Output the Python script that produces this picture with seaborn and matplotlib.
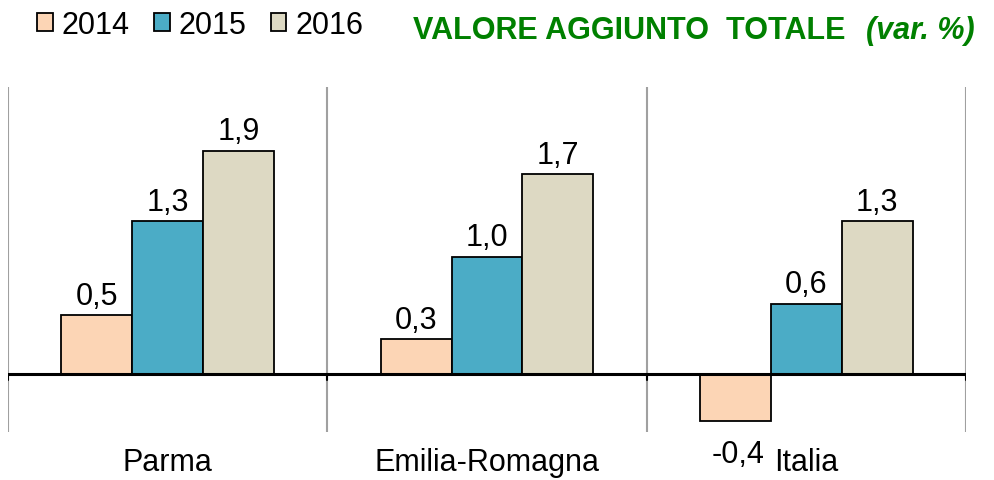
import pandas as pd
import matplotlib.pyplot as plt
import seaborn as sns
from matplotlib.patches import Patch

# Data
regions = ['Parma', 'Emilia-Romagna', 'Italia']
years = ['2014', '2015', '2016']
values_2014 = [0.5, 0.3, -0.4]
values_2015 = [1.3, 1.0, 0.6]
values_2016 = [1.9, 1.7, 1.3]
colors = ['#FCD5B5', '#4BACC6', '#DDD9C3']

rows = []
for year, vals in zip(years, [values_2014, values_2015, values_2016]):
    for reg, v in zip(regions, vals):
        rows.append({'region': reg, 'year': year, 'value': v})
df = pd.DataFrame(rows)

sns.set_style('white')
plt.rcParams['font.family'] = ['Liberation Sans', 'DejaVu Sans']
plt.rcParams['text.color'] = 'black'

fig = plt.figure(figsize=(9.95, 4.81), dpi=100)
ax = fig.add_axes([8 / 995, 48 / 481, 958 / 995, 345 / 481])

sns.barplot(data=df, x='region', y='value', hue='year', order=regions,
            hue_order=years, palette=colors, saturation=1, width=0.665,
            edgecolor='black', linewidth=1.3, legend=False, ax=ax)

ax.set_xlim(-0.5, 2.5)
ax.set_ylim(-0.49, 2.44)

# value labels
for container in ax.containers:
    for bar in container:
        h = bar.get_height()
        x = bar.get_x() + bar.get_width() / 2
        txt = f'{h:.1f}'.replace('.', ',')
        if h >= 0:
            ax.annotate(txt, (x, h), xytext=(0, 3), textcoords='offset points',
                        ha='center', va='bottom', fontsize=22, color='black')
        else:
            ax.annotate(txt, (x, h), xytext=(2, -13), textcoords='offset points',
                        ha='center', va='top', fontsize=22, color='black')

# separators and zero line
for xb in [-0.5, 0.5, 1.5, 2.5]:
    ax.axvline(xb, color='#a0a0a0', lw=1.5, zorder=0)
    ax.plot([xb, xb], [0, -0.05], color='black', lw=1.5, zorder=3)
ax.axhline(0, color='black', lw=2.2, zorder=3)

for s in ax.spines.values():
    s.set_visible(False)
ax.set_yticks([])
ax.set_xlabel('')
ax.set_ylabel('')
ax.tick_params(axis='x', length=0, pad=11, labelsize=22, labelcolor='black')

handles = [Patch(facecolor=c, edgecolor='black', linewidth=1.3) for c in colors]
fig.legend(handles, years, loc='upper left', bbox_to_anchor=(0.010, 1.035),
           ncol=3, frameon=False, fontsize=22, handlelength=0.5,
           handleheight=0.5, handletextpad=0.3, columnspacing=0.8,
           labelcolor='black')

fig.text(413 / 995, 0.936, 'VALORE AGGIUNTO  TOTALE', color='#008000',
         fontsize=22, fontweight='bold', va='center', ha='left')
fig.text(975 / 995, 0.936, '(var. %)', color='#008000', fontsize=22,
         fontweight='bold', fontstyle='italic', va='center', ha='right')

fig.savefig('out.png', dpi=100)
